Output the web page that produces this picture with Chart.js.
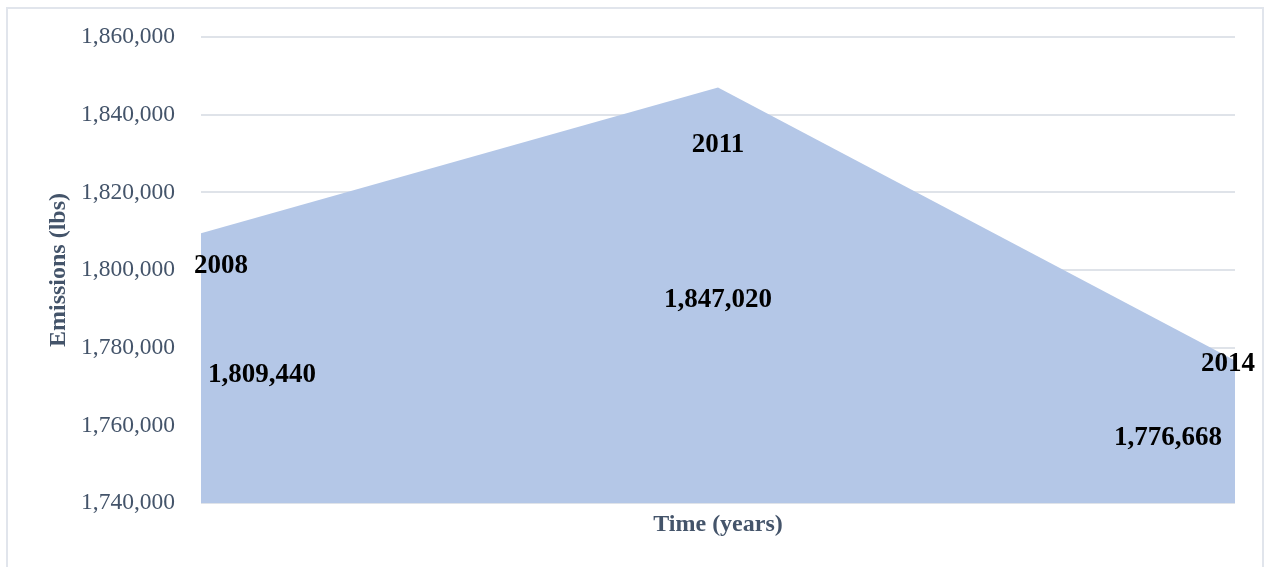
<!DOCTYPE html>
<html>
<head>
<meta charset="utf-8">
<script src="https://cdn.jsdelivr.net/npm/chart.js@4"></script>
<style>
    html, body { margin: 0; padding: 0; background: #fff; }
    #frame {
        position: absolute; left: 6px; top: 7px; width: 1258px; height: 600px;
        border: 2px solid #e1e5ec; box-sizing: border-box;
    }
    #wrap { position: absolute; left: 0; top: 0; width: 1266px; height: 567px; }
</style>
</head>
<body>
<div id="frame"></div>
<div id="wrap"><canvas id="emissionsChart" width="1266" height="567"></canvas></div>
<script>
// Emissions by survey year
const years = ['2008', '2011', '2014'];
const emissions = [1809440, 1847020, 1776668];
const yTicks = [1740000, 1760000, 1780000, 1800000, 1820000, 1840000, 1860000];

// Label offsets from each point: [year dx, year dy, value dx, value dy]
const labelOffsets = [
    [20, 33, 61, 142],
    [0, 58, 0, 213],
    [-7, 3, -67, 77]
];

const SERIF = '"Liberation Serif", "DejaVu Serif", serif';
const SLATE = '#44546a';

// Draws year / value labels inside the area, Excel style
const areaLabels = {
    id: 'areaLabels',
    afterDatasetsDraw(chart) {
        const ctx = chart.ctx;
        const meta = chart.getDatasetMeta(0);
        ctx.save();
        ctx.fillStyle = '#000';
        ctx.font = 'bold 27px ' + SERIF;
        ctx.textAlign = 'center';
        ctx.textBaseline = 'middle';
        meta.data.forEach((pt, i) => {
            const off = labelOffsets[i];
            ctx.fillText(years[i], pt.x + off[0], pt.y + off[1]);
            ctx.fillText(emissions[i].toLocaleString('en-US'), pt.x + off[2], pt.y + off[3]);
        });
        ctx.restore();
    }
};

new Chart(document.getElementById('emissionsChart'), {
    type: 'line',
    data: {
        labels: years,
        datasets: [{
            data: emissions,
            fill: 'start',
            backgroundColor: '#b4c7e7',
            borderWidth: 0,
            pointRadius: 0,
            pointBorderWidth: 0,
            tension: 0
        }]
    },
    options: {
        responsive: false,
        animation: false,
        layout: { padding: { top: 37, right: 31, left: 0, bottom: 0 } },
        plugins: { legend: { display: false }, tooltip: { enabled: false } },
        scales: {
            x: {
                offset: false,
                grid: { display: false, drawTicks: false },
                border: { display: false },
                ticks: { display: false },
                title: {
                    display: true, text: 'Time (years)', color: SLATE,
                    font: { family: SERIF, size: 24, weight: 'bold' },
                    padding: { top: 0, bottom: 28 }
                },
                afterFit: s => { s.height = 64; }
            },
            y: {
                min: 1740000, max: 1860000,
                afterBuildTicks: s => { s.ticks = yTicks.map(v => ({ value: v })); },
                // invisible tick marks keep the labels away from the plot
                grid: { color: '#dfe3e9', lineWidth: 2, drawTicks: true, tickLength: 26, tickColor: 'rgba(0,0,0,0)' },
                border: { display: false },
                ticks: {
                    color: SLATE, padding: 0,
                    font: { family: SERIF, size: 23.5 },
                    callback: v => v.toLocaleString('en-US')
                },
                title: {
                    display: true, text: 'Emissions (lbs)', color: SLATE,
                    font: { family: SERIF, size: 24, weight: 'bold' },
                    padding: { top: 44, bottom: 0 }
                },
                afterFit: s => { s.width = 201; }
            }
        }
    },
    plugins: [areaLabels]
});
</script>
</body>
</html>
